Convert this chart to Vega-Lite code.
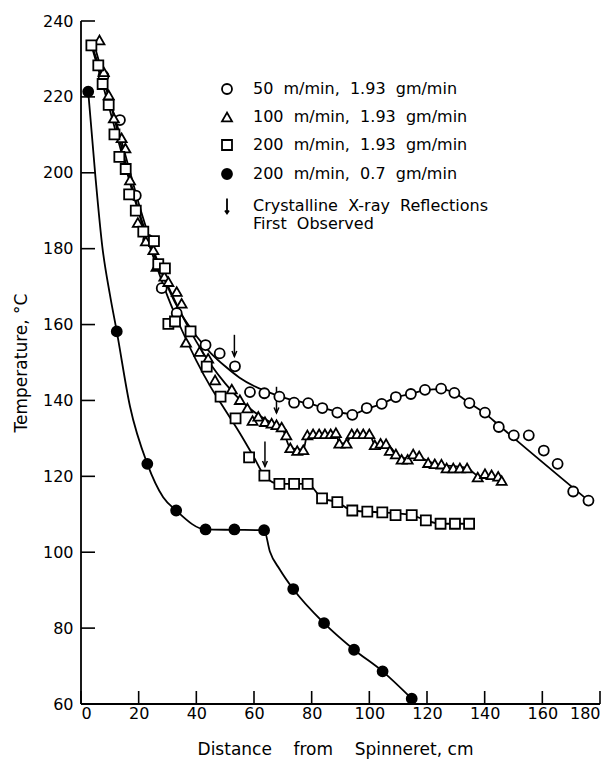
{
  "$schema": "https://vega.github.io/schema/vega-lite/v6.json",
  "width": 519,
  "height": 683,
  "autosize": {"type": "none"},
  "padding": {"left": 81, "top": 21, "right": 12, "bottom": 59},
  "background": "white",
  "config": {
    "view": {"stroke": null},
    "font": "DejaVu Sans",
    "axis": {
      "grid": false,
      "domain": false,
      "ticks": false,
      "labelColor": "black",
      "labelFontSize": 16,
      "titleColor": "black",
      "titleFontSize": 17,
      "titleFontWeight": "normal"
    }
  },
  "datasets": {
    "xticks": [
      {"distance": 0}, {"distance": 20}, {"distance": 40}, {"distance": 60}, {"distance": 80},
      {"distance": 100}, {"distance": 120}, {"distance": 140}, {"distance": 160}, {"distance": 180}
    ],
    "yticks": [
      {"temp": 60}, {"temp": 80}, {"temp": 100}, {"temp": 120}, {"temp": 140},
      {"temp": 160}, {"temp": 180}, {"temp": 200}, {"temp": 220}, {"temp": 240}
    ],
    "points": [
      {"series": "50 m/min, 1.93 gm/min", "distance": 7.8, "temp": 225.5},
      {"series": "50 m/min, 1.93 gm/min", "distance": 13.5, "temp": 213.9},
      {"series": "50 m/min, 1.93 gm/min", "distance": 19.0, "temp": 194.0},
      {"series": "50 m/min, 1.93 gm/min", "distance": 23.3, "temp": 182.3},
      {"series": "50 m/min, 1.93 gm/min", "distance": 28.0, "temp": 169.6},
      {"series": "50 m/min, 1.93 gm/min", "distance": 33.2, "temp": 163.0},
      {"series": "50 m/min, 1.93 gm/min", "distance": 43.2, "temp": 154.6},
      {"series": "50 m/min, 1.93 gm/min", "distance": 48.1, "temp": 152.4},
      {"series": "50 m/min, 1.93 gm/min", "distance": 53.4, "temp": 149.0},
      {"series": "50 m/min, 1.93 gm/min", "distance": 58.6, "temp": 142.2},
      {"series": "50 m/min, 1.93 gm/min", "distance": 63.6, "temp": 141.9},
      {"series": "50 m/min, 1.93 gm/min", "distance": 68.8, "temp": 141.0},
      {"series": "50 m/min, 1.93 gm/min", "distance": 73.9, "temp": 139.4},
      {"series": "50 m/min, 1.93 gm/min", "distance": 78.8, "temp": 139.3},
      {"series": "50 m/min, 1.93 gm/min", "distance": 83.7, "temp": 138.0},
      {"series": "50 m/min, 1.93 gm/min", "distance": 88.9, "temp": 136.8},
      {"series": "50 m/min, 1.93 gm/min", "distance": 94.1, "temp": 136.2},
      {"series": "50 m/min, 1.93 gm/min", "distance": 99.1, "temp": 138.0},
      {"series": "50 m/min, 1.93 gm/min", "distance": 104.3, "temp": 139.1},
      {"series": "50 m/min, 1.93 gm/min", "distance": 109.2, "temp": 140.9},
      {"series": "50 m/min, 1.93 gm/min", "distance": 114.4, "temp": 141.7},
      {"series": "50 m/min, 1.93 gm/min", "distance": 119.3, "temp": 142.8},
      {"series": "50 m/min, 1.93 gm/min", "distance": 124.9, "temp": 143.1},
      {"series": "50 m/min, 1.93 gm/min", "distance": 129.5, "temp": 142.0},
      {"series": "50 m/min, 1.93 gm/min", "distance": 134.7, "temp": 139.3},
      {"series": "50 m/min, 1.93 gm/min", "distance": 140.1, "temp": 136.8},
      {"series": "50 m/min, 1.93 gm/min", "distance": 144.9, "temp": 133.0},
      {"series": "50 m/min, 1.93 gm/min", "distance": 150.1, "temp": 130.8},
      {"series": "50 m/min, 1.93 gm/min", "distance": 155.3, "temp": 130.8},
      {"series": "50 m/min, 1.93 gm/min", "distance": 160.5, "temp": 126.8},
      {"series": "50 m/min, 1.93 gm/min", "distance": 165.3, "temp": 123.3},
      {"series": "50 m/min, 1.93 gm/min", "distance": 170.7, "temp": 116.0},
      {"series": "50 m/min, 1.93 gm/min", "distance": 176.0, "temp": 113.6},

      {"series": "100 m/min, 1.93 gm/min", "distance": 6.4, "temp": 235.0},
      {"series": "100 m/min, 1.93 gm/min", "distance": 7.9, "temp": 226.6},
      {"series": "100 m/min, 1.93 gm/min", "distance": 9.6, "temp": 220.5},
      {"series": "100 m/min, 1.93 gm/min", "distance": 11.4, "temp": 214.4},
      {"series": "100 m/min, 1.93 gm/min", "distance": 14.1, "temp": 209.2},
      {"series": "100 m/min, 1.93 gm/min", "distance": 15.4, "temp": 206.5},
      {"series": "100 m/min, 1.93 gm/min", "distance": 17.0, "temp": 198.1},
      {"series": "100 m/min, 1.93 gm/min", "distance": 19.7, "temp": 186.9},
      {"series": "100 m/min, 1.93 gm/min", "distance": 22.5, "temp": 182.0},
      {"series": "100 m/min, 1.93 gm/min", "distance": 25.1, "temp": 179.7},
      {"series": "100 m/min, 1.93 gm/min", "distance": 26.2, "temp": 175.3},
      {"series": "100 m/min, 1.93 gm/min", "distance": 28.9, "temp": 172.7},
      {"series": "100 m/min, 1.93 gm/min", "distance": 30.3, "temp": 171.3},
      {"series": "100 m/min, 1.93 gm/min", "distance": 33.2, "temp": 168.7},
      {"series": "100 m/min, 1.93 gm/min", "distance": 34.9, "temp": 165.6},
      {"series": "100 m/min, 1.93 gm/min", "distance": 36.4, "temp": 155.3},
      {"series": "100 m/min, 1.93 gm/min", "distance": 41.1, "temp": 152.9},
      {"series": "100 m/min, 1.93 gm/min", "distance": 44.1, "temp": 151.1},
      {"series": "100 m/min, 1.93 gm/min", "distance": 46.5, "temp": 145.4},
      {"series": "100 m/min, 1.93 gm/min", "distance": 52.3, "temp": 143.0},
      {"series": "100 m/min, 1.93 gm/min", "distance": 55.1, "temp": 140.2},
      {"series": "100 m/min, 1.93 gm/min", "distance": 57.7, "temp": 138.0},
      {"series": "100 m/min, 1.93 gm/min", "distance": 59.5, "temp": 134.7},
      {"series": "100 m/min, 1.93 gm/min", "distance": 61.5, "temp": 135.8},
      {"series": "100 m/min, 1.93 gm/min", "distance": 63.8, "temp": 134.4},
      {"series": "100 m/min, 1.93 gm/min", "distance": 66.1, "temp": 134.0},
      {"series": "100 m/min, 1.93 gm/min", "distance": 67.8, "temp": 133.6},
      {"series": "100 m/min, 1.93 gm/min", "distance": 69.6, "temp": 133.0},
      {"series": "100 m/min, 1.93 gm/min", "distance": 71.2, "temp": 130.9},
      {"series": "100 m/min, 1.93 gm/min", "distance": 72.6, "temp": 127.5},
      {"series": "100 m/min, 1.93 gm/min", "distance": 75.0, "temp": 126.8},
      {"series": "100 m/min, 1.93 gm/min", "distance": 77.1, "temp": 127.0},
      {"series": "100 m/min, 1.93 gm/min", "distance": 78.5, "temp": 130.9},
      {"series": "100 m/min, 1.93 gm/min", "distance": 80.5, "temp": 131.2},
      {"series": "100 m/min, 1.93 gm/min", "distance": 82.6, "temp": 131.2},
      {"series": "100 m/min, 1.93 gm/min", "distance": 84.6, "temp": 131.2},
      {"series": "100 m/min, 1.93 gm/min", "distance": 86.6, "temp": 131.2},
      {"series": "100 m/min, 1.93 gm/min", "distance": 88.4, "temp": 131.5},
      {"series": "100 m/min, 1.93 gm/min", "distance": 89.6, "temp": 128.7},
      {"series": "100 m/min, 1.93 gm/min", "distance": 92.1, "temp": 128.7},
      {"series": "100 m/min, 1.93 gm/min", "distance": 93.9, "temp": 131.2},
      {"series": "100 m/min, 1.93 gm/min", "distance": 95.8, "temp": 131.2},
      {"series": "100 m/min, 1.93 gm/min", "distance": 97.9, "temp": 131.2},
      {"series": "100 m/min, 1.93 gm/min", "distance": 100.0, "temp": 131.2},
      {"series": "100 m/min, 1.93 gm/min", "distance": 101.9, "temp": 128.3},
      {"series": "100 m/min, 1.93 gm/min", "distance": 103.9, "temp": 128.7},
      {"series": "100 m/min, 1.93 gm/min", "distance": 105.8, "temp": 128.6},
      {"series": "100 m/min, 1.93 gm/min", "distance": 107.1, "temp": 126.8},
      {"series": "100 m/min, 1.93 gm/min", "distance": 109.2, "temp": 125.9},
      {"series": "100 m/min, 1.93 gm/min", "distance": 111.2, "temp": 124.5},
      {"series": "100 m/min, 1.93 gm/min", "distance": 113.3, "temp": 124.5},
      {"series": "100 m/min, 1.93 gm/min", "distance": 115.2, "temp": 125.9},
      {"series": "100 m/min, 1.93 gm/min", "distance": 117.3, "temp": 125.4},
      {"series": "100 m/min, 1.93 gm/min", "distance": 120.4, "temp": 123.6},
      {"series": "100 m/min, 1.93 gm/min", "distance": 122.7, "temp": 123.3},
      {"series": "100 m/min, 1.93 gm/min", "distance": 125.0, "temp": 123.2},
      {"series": "100 m/min, 1.93 gm/min", "distance": 126.8, "temp": 122.2},
      {"series": "100 m/min, 1.93 gm/min", "distance": 129.1, "temp": 122.2},
      {"series": "100 m/min, 1.93 gm/min", "distance": 131.4, "temp": 122.2},
      {"series": "100 m/min, 1.93 gm/min", "distance": 133.9, "temp": 122.2},
      {"series": "100 m/min, 1.93 gm/min", "distance": 137.6, "temp": 119.8},
      {"series": "100 m/min, 1.93 gm/min", "distance": 140.1, "temp": 120.7},
      {"series": "100 m/min, 1.93 gm/min", "distance": 142.4, "temp": 120.4},
      {"series": "100 m/min, 1.93 gm/min", "distance": 144.7, "temp": 120.0},
      {"series": "100 m/min, 1.93 gm/min", "distance": 145.9, "temp": 118.9},

      {"series": "200 m/min, 1.93 gm/min", "distance": 3.6, "temp": 233.6},
      {"series": "200 m/min, 1.93 gm/min", "distance": 6.0, "temp": 228.3},
      {"series": "200 m/min, 1.93 gm/min", "distance": 7.5, "temp": 223.4},
      {"series": "200 m/min, 1.93 gm/min", "distance": 9.6, "temp": 217.9},
      {"series": "200 m/min, 1.93 gm/min", "distance": 11.6, "temp": 210.1},
      {"series": "200 m/min, 1.93 gm/min", "distance": 13.3, "temp": 204.2},
      {"series": "200 m/min, 1.93 gm/min", "distance": 15.5, "temp": 201.0},
      {"series": "200 m/min, 1.93 gm/min", "distance": 16.7, "temp": 194.3},
      {"series": "200 m/min, 1.93 gm/min", "distance": 19.0, "temp": 190.0},
      {"series": "200 m/min, 1.93 gm/min", "distance": 21.6, "temp": 184.5},
      {"series": "200 m/min, 1.93 gm/min", "distance": 25.3, "temp": 182.0},
      {"series": "200 m/min, 1.93 gm/min", "distance": 26.8, "temp": 175.9},
      {"series": "200 m/min, 1.93 gm/min", "distance": 29.1, "temp": 174.8},
      {"series": "200 m/min, 1.93 gm/min", "distance": 30.3, "temp": 160.2},
      {"series": "200 m/min, 1.93 gm/min", "distance": 32.6, "temp": 160.8},
      {"series": "200 m/min, 1.93 gm/min", "distance": 38.0, "temp": 158.2},
      {"series": "200 m/min, 1.93 gm/min", "distance": 43.6, "temp": 148.9},
      {"series": "200 m/min, 1.93 gm/min", "distance": 48.4, "temp": 141.0},
      {"series": "200 m/min, 1.93 gm/min", "distance": 53.6, "temp": 135.3},
      {"series": "200 m/min, 1.93 gm/min", "distance": 58.3, "temp": 125.0},
      {"series": "200 m/min, 1.93 gm/min", "distance": 63.6, "temp": 120.2},
      {"series": "200 m/min, 1.93 gm/min", "distance": 68.8, "temp": 118.0},
      {"series": "200 m/min, 1.93 gm/min", "distance": 73.9, "temp": 118.0},
      {"series": "200 m/min, 1.93 gm/min", "distance": 78.6, "temp": 118.0},
      {"series": "200 m/min, 1.93 gm/min", "distance": 83.6, "temp": 114.2},
      {"series": "200 m/min, 1.93 gm/min", "distance": 88.9, "temp": 113.2},
      {"series": "200 m/min, 1.93 gm/min", "distance": 94.1, "temp": 111.0},
      {"series": "200 m/min, 1.93 gm/min", "distance": 99.3, "temp": 110.7},
      {"series": "200 m/min, 1.93 gm/min", "distance": 104.5, "temp": 110.5},
      {"series": "200 m/min, 1.93 gm/min", "distance": 109.1, "temp": 109.8},
      {"series": "200 m/min, 1.93 gm/min", "distance": 114.7, "temp": 109.8},
      {"series": "200 m/min, 1.93 gm/min", "distance": 119.6, "temp": 108.4},
      {"series": "200 m/min, 1.93 gm/min", "distance": 124.7, "temp": 107.5},
      {"series": "200 m/min, 1.93 gm/min", "distance": 129.7, "temp": 107.5},
      {"series": "200 m/min, 1.93 gm/min", "distance": 134.6, "temp": 107.5},

      {"series": "200 m/min, 0.7 gm/min", "distance": 2.5, "temp": 221.4},
      {"series": "200 m/min, 0.7 gm/min", "distance": 12.4, "temp": 158.2},
      {"series": "200 m/min, 0.7 gm/min", "distance": 23.0, "temp": 123.3},
      {"series": "200 m/min, 0.7 gm/min", "distance": 33.0, "temp": 111.0},
      {"series": "200 m/min, 0.7 gm/min", "distance": 43.2, "temp": 106.0},
      {"series": "200 m/min, 0.7 gm/min", "distance": 53.2, "temp": 106.0},
      {"series": "200 m/min, 0.7 gm/min", "distance": 63.5, "temp": 105.8},
      {"series": "200 m/min, 0.7 gm/min", "distance": 73.6, "temp": 90.3},
      {"series": "200 m/min, 0.7 gm/min", "distance": 84.3, "temp": 81.3},
      {"series": "200 m/min, 0.7 gm/min", "distance": 94.7, "temp": 74.3},
      {"series": "200 m/min, 0.7 gm/min", "distance": 104.6, "temp": 68.6},
      {"series": "200 m/min, 0.7 gm/min", "distance": 114.7, "temp": 61.4}
    ],
    "curves": [
      {"series": "50 m/min, 1.93 gm/min", "distance": 4.0, "temp": 233.0},
      {"series": "50 m/min, 1.93 gm/min", "distance": 8.0, "temp": 224.0},
      {"series": "50 m/min, 1.93 gm/min", "distance": 12.0, "temp": 214.0},
      {"series": "50 m/min, 1.93 gm/min", "distance": 16.0, "temp": 203.0},
      {"series": "50 m/min, 1.93 gm/min", "distance": 20.0, "temp": 192.0},
      {"series": "50 m/min, 1.93 gm/min", "distance": 25.0, "temp": 180.0},
      {"series": "50 m/min, 1.93 gm/min", "distance": 30.0, "temp": 170.0},
      {"series": "50 m/min, 1.93 gm/min", "distance": 35.0, "temp": 162.5},
      {"series": "50 m/min, 1.93 gm/min", "distance": 40.0, "temp": 157.0},
      {"series": "50 m/min, 1.93 gm/min", "distance": 45.0, "temp": 152.5},
      {"series": "50 m/min, 1.93 gm/min", "distance": 50.0, "temp": 149.0},
      {"series": "50 m/min, 1.93 gm/min", "distance": 55.0, "temp": 146.0},
      {"series": "50 m/min, 1.93 gm/min", "distance": 60.0, "temp": 143.8},
      {"series": "50 m/min, 1.93 gm/min", "distance": 65.0, "temp": 142.2},
      {"series": "50 m/min, 1.93 gm/min", "distance": 70.0, "temp": 140.8},
      {"series": "50 m/min, 1.93 gm/min", "distance": 75.0, "temp": 139.8},
      {"series": "50 m/min, 1.93 gm/min", "distance": 80.0, "temp": 139.0},
      {"series": "50 m/min, 1.93 gm/min", "distance": 85.0, "temp": 137.8},
      {"series": "50 m/min, 1.93 gm/min", "distance": 90.0, "temp": 136.8},
      {"series": "50 m/min, 1.93 gm/min", "distance": 94.1, "temp": 136.4},
      {"series": "50 m/min, 1.93 gm/min", "distance": 99.1, "temp": 137.8},
      {"series": "50 m/min, 1.93 gm/min", "distance": 104.3, "temp": 139.1},
      {"series": "50 m/min, 1.93 gm/min", "distance": 109.2, "temp": 140.8},
      {"series": "50 m/min, 1.93 gm/min", "distance": 114.4, "temp": 141.7},
      {"series": "50 m/min, 1.93 gm/min", "distance": 119.3, "temp": 142.7},
      {"series": "50 m/min, 1.93 gm/min", "distance": 124.9, "temp": 143.0},
      {"series": "50 m/min, 1.93 gm/min", "distance": 129.5, "temp": 142.0},
      {"series": "50 m/min, 1.93 gm/min", "distance": 134.7, "temp": 139.3},
      {"series": "50 m/min, 1.93 gm/min", "distance": 140.1, "temp": 136.6},
      {"series": "50 m/min, 1.93 gm/min", "distance": 145.0, "temp": 133.4},
      {"series": "50 m/min, 1.93 gm/min", "distance": 176.0, "temp": 113.6},

      {"series": "100 m/min, 1.93 gm/min", "distance": 4.5, "temp": 234.0},
      {"series": "100 m/min, 1.93 gm/min", "distance": 10.0, "temp": 219.0},
      {"series": "100 m/min, 1.93 gm/min", "distance": 15.0, "temp": 204.0},
      {"series": "100 m/min, 1.93 gm/min", "distance": 20.0, "temp": 190.0},
      {"series": "100 m/min, 1.93 gm/min", "distance": 25.0, "temp": 179.0},
      {"series": "100 m/min, 1.93 gm/min", "distance": 30.0, "temp": 170.5},
      {"series": "100 m/min, 1.93 gm/min", "distance": 35.0, "temp": 162.5},
      {"series": "100 m/min, 1.93 gm/min", "distance": 40.0, "temp": 155.5},
      {"series": "100 m/min, 1.93 gm/min", "distance": 45.0, "temp": 149.5},
      {"series": "100 m/min, 1.93 gm/min", "distance": 50.0, "temp": 144.5},
      {"series": "100 m/min, 1.93 gm/min", "distance": 55.0, "temp": 140.3},
      {"series": "100 m/min, 1.93 gm/min", "distance": 60.0, "temp": 137.0},
      {"series": "100 m/min, 1.93 gm/min", "distance": 65.0, "temp": 134.6},
      {"series": "100 m/min, 1.93 gm/min", "distance": 69.6, "temp": 133.0},
      {"series": "100 m/min, 1.93 gm/min", "distance": 72.6, "temp": 127.5},
      {"series": "100 m/min, 1.93 gm/min", "distance": 77.1, "temp": 127.0},
      {"series": "100 m/min, 1.93 gm/min", "distance": 78.5, "temp": 130.9},
      {"series": "100 m/min, 1.93 gm/min", "distance": 88.4, "temp": 131.3},
      {"series": "100 m/min, 1.93 gm/min", "distance": 89.6, "temp": 128.7},
      {"series": "100 m/min, 1.93 gm/min", "distance": 92.1, "temp": 128.7},
      {"series": "100 m/min, 1.93 gm/min", "distance": 93.9, "temp": 131.2},
      {"series": "100 m/min, 1.93 gm/min", "distance": 100.0, "temp": 131.2},
      {"series": "100 m/min, 1.93 gm/min", "distance": 101.9, "temp": 128.4},
      {"series": "100 m/min, 1.93 gm/min", "distance": 105.8, "temp": 128.4},
      {"series": "100 m/min, 1.93 gm/min", "distance": 111.2, "temp": 124.8},
      {"series": "100 m/min, 1.93 gm/min", "distance": 117.3, "temp": 124.8},
      {"series": "100 m/min, 1.93 gm/min", "distance": 122.7, "temp": 123.3},
      {"series": "100 m/min, 1.93 gm/min", "distance": 133.9, "temp": 122.2},
      {"series": "100 m/min, 1.93 gm/min", "distance": 137.6, "temp": 120.2},
      {"series": "100 m/min, 1.93 gm/min", "distance": 146.5, "temp": 119.2},

      {"series": "200 m/min, 1.93 gm/min", "distance": 3.6, "temp": 233.6},
      {"series": "200 m/min, 1.93 gm/min", "distance": 8.0, "temp": 222.0},
      {"series": "200 m/min, 1.93 gm/min", "distance": 12.0, "temp": 211.0},
      {"series": "200 m/min, 1.93 gm/min", "distance": 16.0, "temp": 200.0},
      {"series": "200 m/min, 1.93 gm/min", "distance": 20.0, "temp": 189.5},
      {"series": "200 m/min, 1.93 gm/min", "distance": 25.0, "temp": 178.0},
      {"series": "200 m/min, 1.93 gm/min", "distance": 30.0, "temp": 167.5},
      {"series": "200 m/min, 1.93 gm/min", "distance": 35.0, "temp": 158.5},
      {"series": "200 m/min, 1.93 gm/min", "distance": 40.0, "temp": 150.5},
      {"series": "200 m/min, 1.93 gm/min", "distance": 45.0, "temp": 143.5},
      {"series": "200 m/min, 1.93 gm/min", "distance": 50.0, "temp": 137.5},
      {"series": "200 m/min, 1.93 gm/min", "distance": 55.0, "temp": 131.5},
      {"series": "200 m/min, 1.93 gm/min", "distance": 60.0, "temp": 125.0},
      {"series": "200 m/min, 1.93 gm/min", "distance": 63.6, "temp": 120.2},
      {"series": "200 m/min, 1.93 gm/min", "distance": 68.8, "temp": 118.0},
      {"series": "200 m/min, 1.93 gm/min", "distance": 78.6, "temp": 118.0},
      {"series": "200 m/min, 1.93 gm/min", "distance": 83.6, "temp": 114.2},
      {"series": "200 m/min, 1.93 gm/min", "distance": 88.9, "temp": 113.2},
      {"series": "200 m/min, 1.93 gm/min", "distance": 94.1, "temp": 111.0},
      {"series": "200 m/min, 1.93 gm/min", "distance": 104.5, "temp": 110.5},
      {"series": "200 m/min, 1.93 gm/min", "distance": 114.7, "temp": 109.8},
      {"series": "200 m/min, 1.93 gm/min", "distance": 119.6, "temp": 108.4},
      {"series": "200 m/min, 1.93 gm/min", "distance": 124.7, "temp": 107.5},
      {"series": "200 m/min, 1.93 gm/min", "distance": 134.6, "temp": 107.5},

      {"series": "200 m/min, 0.7 gm/min", "distance": 2.5, "temp": 221.4},
      {"series": "200 m/min, 0.7 gm/min", "distance": 5.0, "temp": 199.0},
      {"series": "200 m/min, 0.7 gm/min", "distance": 7.4, "temp": 180.5},
      {"series": "200 m/min, 0.7 gm/min", "distance": 10.0, "temp": 168.0},
      {"series": "200 m/min, 0.7 gm/min", "distance": 12.4, "temp": 158.2},
      {"series": "200 m/min, 0.7 gm/min", "distance": 17.0, "temp": 138.4},
      {"series": "200 m/min, 0.7 gm/min", "distance": 23.0, "temp": 123.3},
      {"series": "200 m/min, 0.7 gm/min", "distance": 28.5, "temp": 114.5},
      {"series": "200 m/min, 0.7 gm/min", "distance": 33.0, "temp": 111.0},
      {"series": "200 m/min, 0.7 gm/min", "distance": 43.2, "temp": 106.0},
      {"series": "200 m/min, 0.7 gm/min", "distance": 53.2, "temp": 105.9},
      {"series": "200 m/min, 0.7 gm/min", "distance": 63.5, "temp": 105.8},
      {"series": "200 m/min, 0.7 gm/min", "distance": 65.5, "temp": 100.2},
      {"series": "200 m/min, 0.7 gm/min", "distance": 69.0, "temp": 95.4},
      {"series": "200 m/min, 0.7 gm/min", "distance": 73.6, "temp": 90.3},
      {"series": "200 m/min, 0.7 gm/min", "distance": 84.3, "temp": 81.3},
      {"series": "200 m/min, 0.7 gm/min", "distance": 94.7, "temp": 74.3},
      {"series": "200 m/min, 0.7 gm/min", "distance": 104.6, "temp": 68.6},
      {"series": "200 m/min, 0.7 gm/min", "distance": 114.7, "temp": 61.4}
    ],
    "arrows": [
      {"distance": 53.2, "top": 157.3, "tip": 151.6},
      {"distance": 67.8, "top": 143.6, "tip": 136.7},
      {"distance": 63.8, "top": 129.2, "tip": 122.6}
    ]
  },
  "layer": [
    {
      "data": {"name": "curves"},
      "mark": {"type": "line", "interpolate": "monotone", "color": "black", "strokeWidth": 1.8},
      "encoding": {
        "x": {"field": "distance", "type": "quantitative", "scale": {"domain": [0, 180], "nice": false},
              "axis": {"values": [0, 20, 40, 60, 80, 100, 120, 140, 160, 180], "labelPadding": 1,
                       "title": "Distance\u00a0\u00a0\u00a0\u00a0from\u00a0\u00a0\u00a0\u00a0Spinneret,\u00a0cm", "titlePadding": 20, "titleX": 254}},
        "y": {"field": "temp", "type": "quantitative", "scale": {"domain": [60, 240], "nice": false},
              "axis": {"values": [60, 80, 100, 120, 140, 160, 180, 200, 220, 240], "labelPadding": 8,
                       "title": "Temperature, °C", "titlePadding": 12}},
        "detail": {"field": "series", "type": "nominal"}
      }
    },
    {
      "data": {"values": [{}]},
      "mark": {"type": "rule", "color": "black", "strokeWidth": 1.8},
      "encoding": {"x": {"datum": 0, "type": "quantitative"}}
    },
    {
      "data": {"values": [{}]},
      "mark": {"type": "rule", "color": "black", "strokeWidth": 1.8},
      "encoding": {"y": {"datum": 60, "type": "quantitative"}}
    },
    {
      "data": {"name": "xticks"},
      "mark": {"type": "tick", "orient": "vertical", "size": 13, "thickness": 1.6, "yOffset": -6.5, "color": "black", "opacity": 1},
      "encoding": {
        "x": {"field": "distance", "type": "quantitative"},
        "y": {"datum": 60, "type": "quantitative"}
      }
    },
    {
      "data": {"name": "yticks"},
      "mark": {"type": "tick", "orient": "horizontal", "size": 14, "thickness": 1.6, "xOffset": 7, "color": "black", "opacity": 1},
      "encoding": {
        "x": {"datum": 0, "type": "quantitative"},
        "y": {"field": "temp", "type": "quantitative"}
      }
    },
    {
      "data": {"name": "arrows"},
      "mark": {"type": "rule", "color": "black", "strokeWidth": 1.5},
      "encoding": {
        "x": {"field": "distance", "type": "quantitative"},
        "y": {"field": "top", "type": "quantitative"},
        "y2": {"field": "tip"}
      }
    },
    {
      "data": {"name": "arrows"},
      "mark": {"type": "point", "shape": "M-0.4,-0.9L0,0L0.4,-0.9", "size": 144, "filled": false, "stroke": "black", "strokeWidth": 1.5, "opacity": 1},
      "encoding": {
        "x": {"field": "distance", "type": "quantitative"},
        "y": {"field": "tip", "type": "quantitative"}
      }
    },
    {
      "data": {"name": "points"},
      "mark": {"type": "point", "filled": true, "size": 100, "strokeWidth": 1.8, "opacity": 1},
      "encoding": {
        "x": {"field": "distance", "type": "quantitative"},
        "y": {"field": "temp", "type": "quantitative"},
        "shape": {
          "field": "series", "type": "nominal",
          "scale": {
            "domain": ["50 m/min, 1.93 gm/min", "100 m/min, 1.93 gm/min", "200 m/min, 1.93 gm/min", "200 m/min, 0.7 gm/min", "Crystalline X-ray Reflections"],
            "range": ["circle", "triangle-up", "square", "circle", "M0,-1.5L0,1.5M-0.4,0.9L0,1.5L0.4,0.9"]
          },
          "legend": {
            "orient": "none", "legendX": 138, "legendY": 60, "title": null,
            "labelFontSize": 16, "labelColor": "black", "labelLimit": 400, "labelOffset": 18,
            "symbolSize": 100, "symbolStrokeWidth": 1.8, "rowPadding": 11,
            "labelExpr": "datum.label == 'Crystalline X-ray Reflections' ? ['Crystalline\u00a0\u00a0X-ray\u00a0\u00a0Reflections', 'First\u00a0\u00a0Observed'] : replace(datum.label, regexp(' ', 'g'), '\u00a0\u00a0')"
          }
        },
        "fill": {
          "field": "series", "type": "nominal",
          "scale": {
            "domain": ["50 m/min, 1.93 gm/min", "100 m/min, 1.93 gm/min", "200 m/min, 1.93 gm/min", "200 m/min, 0.7 gm/min", "Crystalline X-ray Reflections"],
            "range": ["white", "white", "white", "black", "white"]
          },
          "legend": {
            "orient": "none", "legendX": 138, "legendY": 60, "title": null,
            "labelFontSize": 16, "labelColor": "black", "labelLimit": 400, "labelOffset": 18,
            "symbolSize": 100, "symbolStrokeWidth": 1.8, "rowPadding": 11,
            "labelExpr": "datum.label == 'Crystalline X-ray Reflections' ? ['Crystalline\u00a0\u00a0X-ray\u00a0\u00a0Reflections', 'First\u00a0\u00a0Observed'] : replace(datum.label, regexp(' ', 'g'), '\u00a0\u00a0')"
          }
        },
        "stroke": {
          "field": "series", "type": "nominal",
          "scale": {
            "domain": ["50 m/min, 1.93 gm/min", "100 m/min, 1.93 gm/min", "200 m/min, 1.93 gm/min", "200 m/min, 0.7 gm/min", "Crystalline X-ray Reflections"],
            "range": ["black", "black", "black", "black", "black"]
          },
          "legend": {
            "orient": "none", "legendX": 138, "legendY": 60, "title": null,
            "labelFontSize": 16, "labelColor": "black", "labelLimit": 400, "labelOffset": 18,
            "symbolSize": 100, "symbolStrokeWidth": 1.8, "rowPadding": 11,
            "labelExpr": "datum.label == 'Crystalline X-ray Reflections' ? ['Crystalline\u00a0\u00a0X-ray\u00a0\u00a0Reflections', 'First\u00a0\u00a0Observed'] : replace(datum.label, regexp(' ', 'g'), '\u00a0\u00a0')"
          }
        }
      }
    }
  ]
}
